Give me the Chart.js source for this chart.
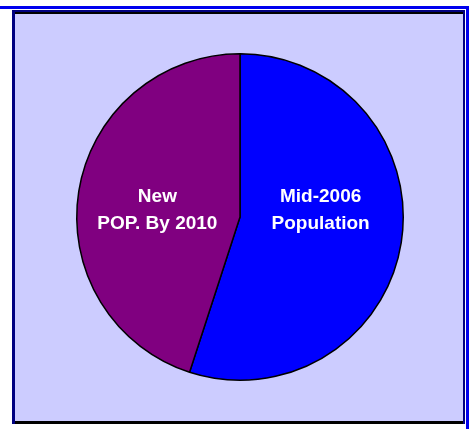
<!DOCTYPE html>
<html>
<head>
<meta charset="utf-8">
<script src="https://cdn.jsdelivr.net/npm/chart.js@4/dist/chart.umd.min.js"></script>
<style>
	html, body { margin: 0; padding: 0; background: #fff; }
	#wrap { position: relative; width: 469px; height: 429px; }
</style>
</head>
<body>
<div id="wrap"><canvas id="chart" width="469" height="429"></canvas></div>
<script>
var categories = ['Mid-2006\nPopulation', 'New\nPOP. By 2010'];
var values = [55, 45];
var colors = ['#0000FF', '#800080'];

// frame around the plot: blue outer rule, navy box, lavender fill
var framePlugin = {
	id: 'frame',
	beforeDraw: function (chart) {
		var ctx = chart.ctx;
		ctx.save();
		ctx.fillStyle = '#ffffff';
		ctx.fillRect(0, 0, 469, 429);
		ctx.fillStyle = '#0000EE';
		ctx.fillRect(0, 6, 469, 3);
		ctx.fillRect(466, 6, 3, 423);
		ctx.fillStyle = '#000080';
		ctx.fillRect(12, 10, 453, 414);
		ctx.fillStyle = '#CCCCFF';
		ctx.fillRect(15, 14, 448, 407);
		ctx.fillStyle = '#000000';
		ctx.fillRect(15, 12, 448, 2);
		ctx.fillRect(15, 421, 448, 3);
		ctx.restore();
	}
};

var labelPlugin = {
	id: 'sliceLabels',
	afterDatasetsDraw: function (chart) {
		var ctx = chart.ctx;
		var meta = chart.getDatasetMeta(0);
		ctx.save();
		ctx.fillStyle = '#ffffff';
		ctx.font = 'bold 19px "Liberation Sans", Arial, sans-serif';
		ctx.textAlign = 'center';
		ctx.textBaseline = 'middle';
		meta.data.forEach(function (arc, i) {
			var pos = arc.getCenterPoint();
			var lines = categories[i].split('\n');
			var y = arc.y - 7 - (lines.length - 1) * 13.5;
			lines.forEach(function (line, j) {
				ctx.fillText(line, pos.x - (i == 1 ? 2 : 0), y + j * 27);
			});
		});
		ctx.restore();
	}
};

var ctx = document.getElementById('chart').getContext('2d');
var chart = new Chart(ctx, {
	type: 'pie',
	data: {
		labels: categories,
		datasets: [{
			data: values,
			backgroundColor: colors,
			borderColor: '#000000',
			borderWidth: 1.5
		}]
	},
	options: {
		responsive: false,
		animation: false,
		layout: { padding: { left: 76, right: 65, top: 53, bottom: 48 } },
		plugins: {
			legend: { display: false },
			tooltip: { enabled: false }
		}
	},
	plugins: [framePlugin, labelPlugin]
});
</script>
</body>
</html>
